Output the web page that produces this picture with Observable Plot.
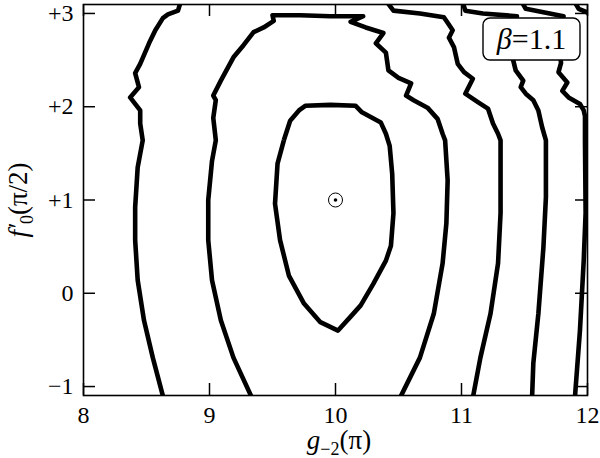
<!DOCTYPE html>
<html>
<head>
<meta charset="utf-8">
<script src="https://cdn.jsdelivr.net/npm/d3@7"></script>
<script src="https://cdn.jsdelivr.net/npm/@observablehq/plot@0.6"></script>
<style>
  body { margin: 0; background: #fff; }
  #chart { position: relative; width: 600px; height: 458px; }
</style>
</head>
<body>
<div id="chart"></div>
<script>
// ---- data (g_-2 in units of pi, f'_0 in units of pi/2) ----
const xTicks = [8, 9, 10, 11, 12];
const yTicks = [-1, 0, 1, 2, 3];
const yTickLabels = ["\u22121", "0", "+1", "+2", "+3"];
const xDomain = [8, 12];
const yDomain = [-1.096, 3.096];
const betaLabel = "1.1";
const optimum = [[10, 1]];

// contour A: closed loop around the optimum
const contourA = [[9.59,1.64],[9.64,1.85],[9.71,1.96],[9.76,2.01],[9.96,2.02],[10.16,2.01],[10.21,1.94],[10.36,1.83],[10.40,1.71],[10.43,1.58],[10.45,1.28],[10.46,0.86],[10.44,0.51],[10.40,0.35],[10.30,0.10],[10.20,-0.13],[10.12,-0.25],[10.02,-0.40],[9.88,-0.31],[9.75,-0.11],[9.63,0.19],[9.56,0.57],[9.52,0.96],[9.54,1.39],[9.59,1.64]];
// contour B: inverted U, both ends at the bottom
const contourB = [[9.33,-1.10],[9.19,-0.69],[9.09,-0.29],[9.02,0.14],[8.99,0.57],[8.99,1.00],[9.02,1.42],[9.05,1.64],[9.03,1.88],[9.05,2.07],[9.03,2.12],[9.09,2.28],[9.19,2.53],[9.27,2.66],[9.35,2.80],[9.43,2.85],[9.51,2.92],[9.50,2.98],[9.72,2.98],[9.96,2.97],[10.22,2.97],[10.12,2.91],[10.24,2.85],[10.38,2.79],[10.32,2.68],[10.40,2.58],[10.42,2.39],[10.50,2.31],[10.60,2.25],[10.56,2.12],[10.62,2.07],[10.73,1.99],[10.81,1.87],[10.85,1.71],[10.87,1.64],[10.89,1.21],[10.88,0.75],[10.85,0.32],[10.78,-0.22],[10.67,-0.69],[10.52,-1.10]];
// contour C: left arm
const contourC1 = [[8.63,-1.10],[8.55,-0.69],[8.48,-0.29],[8.43,0.14],[8.41,0.57],[8.41,0.92],[8.43,1.35],[8.47,1.64],[8.45,1.82],[8.45,1.96],[8.41,2.03],[8.37,2.10],[8.44,2.21],[8.41,2.36],[8.45,2.46],[8.52,2.68],[8.57,2.82],[8.63,2.95],[8.67,2.99],[8.75,3.03],[8.77,3.12]];
// contour C: right arm
const contourC2 = [[10.41,3.12],[10.46,3.03],[10.67,3.00],[10.86,2.96],[10.89,2.90],[10.93,2.82],[10.90,2.74],[10.94,2.64],[10.97,2.46],[11.02,2.37],[11.09,2.30],[11.03,2.14],[11.13,2.05],[11.21,1.98],[11.25,1.82],[11.29,1.71],[11.31,1.64],[11.31,0.86],[11.29,0.32],[11.23,-0.22],[11.15,-0.69],[11.09,-1.12]];
// contour D
const contourD = [[11.01,3.12],[11.03,3.03],[11.17,3.00],[11.44,2.97],[11.40,2.76],[11.41,2.50],[11.43,2.39],[11.49,2.28],[11.47,2.21],[11.51,2.14],[11.57,2.07],[11.61,1.96],[11.64,1.78],[11.67,1.64],[11.67,1.03],[11.65,0.49],[11.61,-0.22],[11.57,-0.75],[11.56,-1.12]];
// contour E
const contourE = [[11.48,3.12],[11.51,3.05],[11.81,2.97],[11.77,2.71],[11.79,2.47],[11.77,2.37],[11.84,2.26],[11.80,2.17],[11.85,2.10],[11.94,2.03],[11.97,1.96],[11.98,1.90],[11.98,1.64],[11.985,0.86],[11.97,0.35],[11.94,-0.40],[11.90,-1.12]];
// contour F: corner piece
const contourF = [[11.90,3.12],[11.93,3.05],[12.00,3.01],[12.03,3.00]];

const contours = [contourA, contourB, contourC1, contourC2, contourD, contourE, contourF];
const lineData = contours.flatMap((c, i) => c.map(([x, y]) => ({id: i, x, y})));

const W = 600, H = 458, mL = 83, mR = 13, mT = 4, mB = 63;
const frameW = W - mL - mR, frameH = H - mT - mB;
const tickLen = 12;
const serif = "'Liberation Serif', 'DejaVu Serif', serif";

const plot = Plot.plot({
  width: W, height: H,
  marginLeft: mL, marginRight: mR, marginTop: mT, marginBottom: mB,
  style: {fontFamily: serif, fontSize: "24px", background: "white", color: "black"},
  x: {domain: xDomain},
  y: {domain: yDomain},
  marks: [
    Plot.line(lineData, {x: "x", y: "y", z: "id", stroke: "black", strokeWidth: 4.6, strokeLinejoin: "round", strokeLinecap: "butt", clip: true}),
    Plot.dot(optimum, {x: d => d[0], y: d => d[1], r: 7, stroke: "black", strokeWidth: 1, fill: "none"}),
    Plot.dot(optimum, {x: d => d[0], y: d => d[1], r: 1.8, fill: "black", stroke: "none"}),
    // inward ticks on all four sides
    Plot.tickX(xTicks, {x: d => d, insetTop: frameH - tickLen, stroke: "black", strokeWidth: 1.5}),
    Plot.tickX(xTicks, {x: d => d, insetBottom: frameH - tickLen, stroke: "black", strokeWidth: 1.5}),
    Plot.tickY(yTicks, {y: d => d, insetRight: frameW - tickLen, stroke: "black", strokeWidth: 1.5}),
    Plot.tickY(yTicks, {y: d => d, insetLeft: frameW - tickLen, stroke: "black", strokeWidth: 1.5}),
    Plot.axisX({ticks: xTicks, tickSize: 0, tickPadding: 10, fontSize: 24, label: null, tickFormat: d => String(d)}),
    Plot.axisY({ticks: yTicks, tickSize: 0, tickPadding: 10, fontSize: 24, label: null, tickFormat: d => yTickLabels[yTicks.indexOf(d)]}),
    Plot.frame({stroke: "black", strokeWidth: 1.6})
  ]
});

const svg = d3.select(plot);
// make sure the tick labels use the large serif size
svg.selectAll('g[aria-label$="tick label"]')
  .attr("font-size", 24).style("font-size", "24px").attr("font-family", serif);
svg.selectAll('g[aria-label$="tick label"] text')
  .attr("font-size", 24).style("font-size", "24px");

// x axis label: g_{-2}(π)
const xl = svg.append("text")
  .attr("x", 339).attr("y", 449)
  .attr("text-anchor", "middle")
  .attr("font-family", serif).attr("font-size", 27).attr("fill", "black");
xl.append("tspan").attr("font-style", "italic").text("g");
xl.append("tspan").attr("font-size", 18).attr("dy", 6).text("\u22122");
xl.append("tspan").attr("dy", -6).text("(\u03C0)");

// y axis label: f'_0(π/2)
const yl = svg.append("text")
  .attr("transform", "translate(27,200) rotate(-90)")
  .attr("text-anchor", "middle")
  .attr("font-family", serif).attr("font-size", 27).attr("fill", "black");
yl.append("tspan").attr("font-style", "italic").text("f\u2032");
yl.append("tspan").attr("font-size", 18).attr("dy", 6).text("0");
yl.append("tspan").attr("dy", -6).text("(\u03C0/2)");

// beta annotation box
const bx = 483, by = 18, bw = 97, bh = 42;
svg.append("rect")
  .attr("x", bx).attr("y", by).attr("width", bw).attr("height", bh)
  .attr("rx", 7).attr("ry", 7)
  .attr("fill", "white").attr("stroke", "black").attr("stroke-width", 1.4);
const bt = svg.append("text")
  .attr("x", bx + bw / 2).attr("y", by + bh / 2 + 10)
  .attr("text-anchor", "middle")
  .attr("font-family", serif).attr("font-size", 30).attr("fill", "black");
bt.append("tspan").attr("font-style", "italic").text("\u03B2");
bt.append("tspan").text("=" + betaLabel);

document.getElementById("chart").appendChild(plot);
</script>
</body>
</html>
